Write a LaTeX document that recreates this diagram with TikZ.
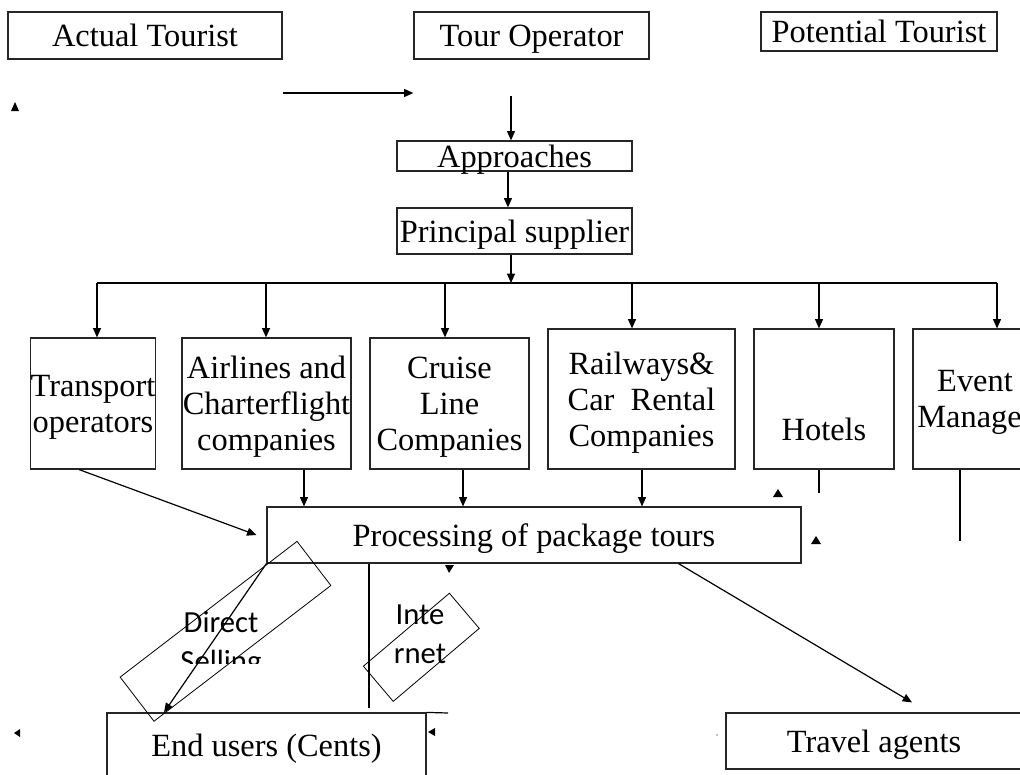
\documentclass[tikz,border=0pt]{standalone}
\usepackage{fontspec}
\setmainfont{Liberation Serif}
\newfontfamily\chanfont{Carlito}
\usetikzlibrary{arrows.meta, calc, positioning}

\begin{document}
\begin{tikzpicture}[x=0.75pt, y=-0.75pt,
    box/.style={draw=black!85, line width=0.9pt, inner sep=0pt, align=center, font=\fontsize{24.3}{27}\selectfont},
    oneline/.style={text height=19.5pt, text depth=3pt},
    multi/.style={text depth=0pt},
    arr/.style={-{Triangle[length=7pt, width=6pt]}, line width=0.9pt},
    link/.style={line width=0.9pt},
    tilted/.style={draw, line width=0.6pt, inner sep=0pt},
    chan/.style={inner sep=0pt, align=center, font=\chanfont\fontsize{23}{29}\selectfont}
]
\useasboundingbox (0,0) rectangle (1020,774);
\clip (0,0) rectangle (1020,774);

% Top row
\node[box, oneline, minimum width=205.5pt, minimum height=35.25pt] (actual) at (145,35.5) {Actual Tourist};
\node[box, oneline, minimum width=176.25pt, minimum height=35.25pt] (operator) at (531.5,35.5) {Tour Operator};
\node[box, oneline, minimum width=177pt, minimum height=29.25pt] (potential) at (879,31.5) {Potential Tourist};

\node[box, oneline, minimum width=176.25pt, minimum height=21pt] (appr) at (514.5,156) {Approaches};
\node[box, oneline, minimum width=176.25pt, minimum height=34.5pt] (princ) at (514.5,231) {Principal supplier};

% Suppliers
\node[box, multi, minimum width=91.5pt, minimum height=98.25pt] (trans) at (93,403.5) {Transport\\operators};
\node[box, multi, minimum width=126.75pt, minimum height=98.25pt] (air) at (266.5,403.5) {Airlines and\\Charterflight\\companies};
\node[box, multi, minimum width=119.25pt, minimum height=98.25pt] (cruise) at (449.5,403.5) {Cruise\\Line\\Companies};
\node[box, multi, minimum width=140.25pt, minimum height=105pt] (rail) at (641.5,399) {Railways\&\\Car\ \ Rental\\Companies};
\node[box, minimum width=105pt, minimum height=105pt, text height=61.5pt, text depth=0pt] (hotel) at (824,399) {Hotels};
\node[box, multi, minimum width=93pt, minimum height=105pt] (event) at (975,399) {Event\\Manager};

% Processing and outlets
\node[box, oneline, minimum width=400.5pt, minimum height=42pt] (proc) at (534,535) {Processing of package tours};
\node[box, oneline, minimum width=239.25pt, minimum height=48pt] (users) at (266.5,745) {End users (Cents)};
\node[box, oneline, minimum width=222pt, minimum height=42pt] (agents) at (874,741) {Travel agents};

% Channels
\node[tilted, minimum width=167.25pt, minimum height=41.7pt, rotate=37.5] (sellframe) at (225.5,631.3) {};
\begin{scope}
  \clip (100,560) rectangle (340,663);
  \node[chan, anchor=north] (selltext) at (221,611) {Direct\\Selling};
\end{scope}
\node[tilted, minimum width=84.6pt, minimum height=34.6pt, rotate=40.3] (netframe) at (421.3,647.3) {};
\node[chan, anchor=north] (nettext) at (420,605) {Inte\\rnet};

\coordinate (flow) at (0,93);
\coordinate (opDown) at (511,96);
\coordinate (bus) at (511,283);
\coordinate (hotelEnd) at (819,493);
\coordinate (eventEnd) at (960,541);
\coordinate (midEnd) at (369,708);
\coordinate (usersTop) at (448,713);

% Connectors
\draw[arr] (actual.east |- flow) -- (operator.west |- flow);
\draw[arr] (opDown) -- (appr.north -| opDown);
\draw[arr] ([xshift=-4.9pt]appr.south) -- ([xshift=-4.9pt]princ.north);
\draw[arr] (princ.south -| bus) -- (bus);
\draw[link] (bus -| 97,0) -- (bus -| 997,0);
\foreach \n/\x in {trans/97, air/266, cruise/445, rail/632, hotel/819, event/997}
  \draw[arr] (bus -| \x,0) -- (\n.north -| \x,0);
\foreach \n/\x in {air/304, cruise/463, rail/642}
  \draw[arr] (\n.south -| \x,0) -- (proc.north -| \x,0);
\draw[arr] ($(trans.south west)!0.39!(trans.south east)$) -- ([xshift=-7.5pt]proc.west);
\draw[link] (hotel.south -| hotelEnd) -- (hotelEnd);
\draw[link] (event.south -| eventEnd) -- (eventEnd);
\draw[link] (proc.south -| midEnd) -- (midEnd);
\draw[arr] (proc.south west) -- ($(users.north west)!0.18!(users.north east)$);
\draw[link] (users.north east) -- (usersTop);
\draw[arr] ($(proc.south west)!0.77!(proc.south east)$) -- ([xshift=28.5pt, yshift=7.5pt]agents.north);

% loose arrow tips
\fill (11,111) -- (19,111) -- (15,102) -- cycle;
\fill (773,497) -- (783,497) -- (778,489) -- cycle;
\fill (811,544) -- (821,544) -- (816,536) -- cycle;
\fill (445,565) -- (454,565) -- (449,573) -- cycle;
\fill (435,728) -- (435,736) -- (428,732) -- cycle;
\fill (20,729) -- (20,737) -- (14,733) -- cycle;
\fill (717,735) circle (0.6);

\end{tikzpicture}
\end{document}
